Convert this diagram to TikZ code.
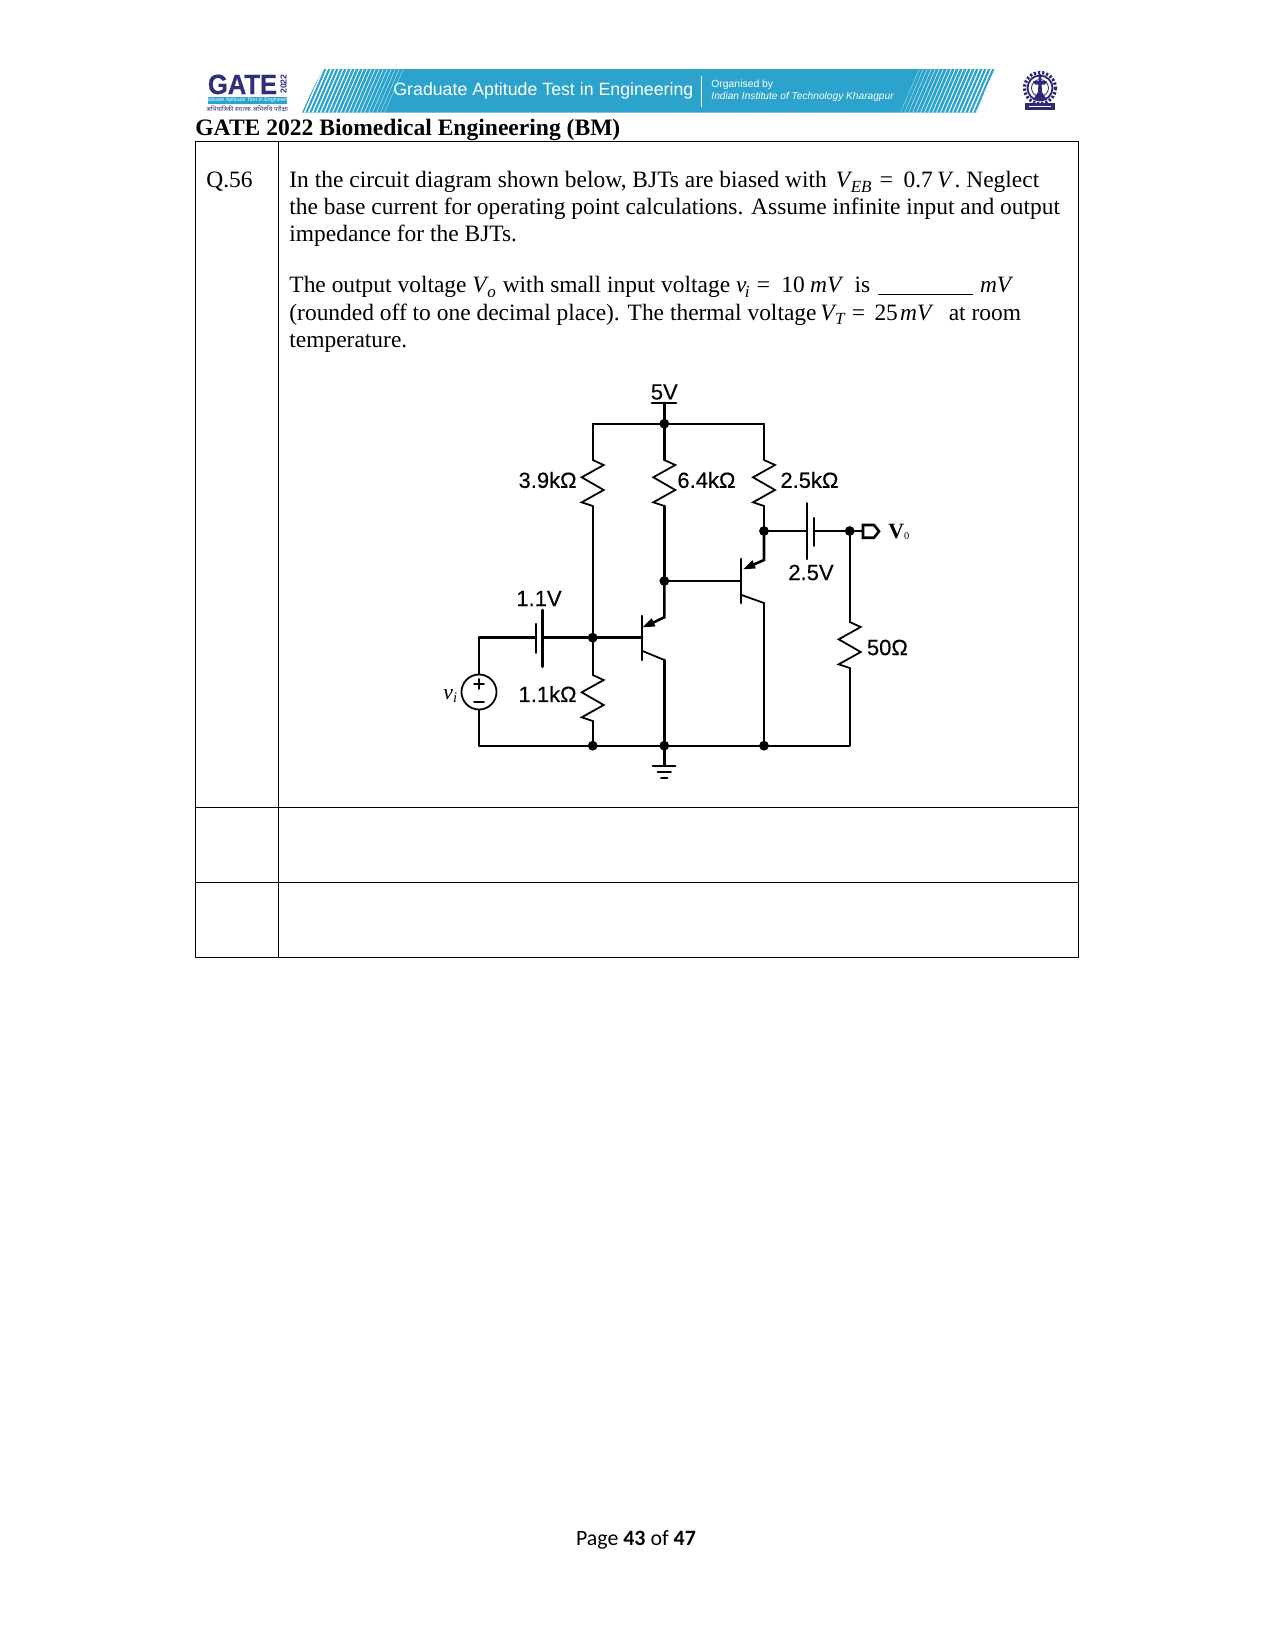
\documentclass[tikz,border=0pt]{standalone}
\usepackage{fontspec}
\usepackage{graphicx}
\setmainfont{Liberation Serif}
\newfontfamily\arialf{Liberation Sans}[FakeBold=0.25]
\newfontfamily\arialplain{Liberation Sans}
\newfontfamily\arialheavy{Liberation Sans Bold}[FakeBold=0.5]
\newfontfamily\carlitof{Carlito}
\newfontfamily\hindif[Script=Devanagari]{Noto Sans}
\usetikzlibrary{calc}
\definecolor{bannerblue}{HTML}{2BA3CC}
\definecolor{logonavy}{HTML}{2E2F7F}
\definecolor{emblemnavy}{HTML}{2B2A78}
\newcommand{\zigzag}[2]{\draw[#2] (#1) -- ++(11,5) -- ++(-22,12.3) -- ++(22,12.7) -- ++(-22,12.3) -- ++(11,3.7);}
\newcommand{\msub}[2]{\textit{#1}\kern-0.8pt\raisebox{-2.4pt}{\fontsize{8.2}{9}\selectfont\textit{#2}}}
\tikzset{
  x=0.48bp,y=-0.48bp,
  thinwire/.style={line width=0.85bp,line cap=round,line join=miter},
  thickwire/.style={line width=1.25bp,line cap=round,line join=miter},
  dotnode/.style={circle,fill=black,inner sep=0pt,minimum size=4.7bp},
  txt/.style={anchor=base west,inner sep=0pt,font=\fontsize{11.3}{13}\selectfont},
  lab/.style={inner sep=0pt,font=\arialf\fontsize{10.6}{12}\selectfont},
  tbl/.style={line width=0.42bp,black},
}
\begin{document}
\begin{tikzpicture}
\useasboundingbox (0,0) rectangle (1275,1651);
\fill[white] (0,0) rectangle (1275,1651);

% ---------- header banner
\begin{scope}
\clip (302,112.7) .. controls (310,95) and (316,82) .. (323,69) -- (995,69) .. controls (988,82) and (982,97) .. (977,112.7) -- cycle;
\fill[bannerblue] (295,65) rectangle (1000,116);
\foreach \i in {0,...,21}{
  \draw[white,line width={(0.72-0.03*\i)*1bp}] ({299+\i*4.0},116) -- ({321+\i*4.0},65);
}
\foreach \i in {0,...,21}{
  \draw[white,line width={(0.72-0.03*\i)*1bp}] ({983-\i*4.0},116) -- ({1005-\i*4.0},65);
}
\end{scope}
\draw[white,line width=0.3bp] (701,76) -- (701,107);
\node[anchor=west,inner sep=0pt,white,font=\arialplain\fontsize{8.55}{10}\selectfont] (bannertitle) at (393,91) {Graduate Aptitude Test in Engineering};
\node[anchor=west,inner sep=0pt,white,font=\arialplain\fontsize{5}{6}\selectfont] (bannerorg) at (711,85) {Organised by};
\node[anchor=west,inner sep=0pt,white,font=\arialplain\itshape\fontsize{4.9}{6}\selectfont] (bannerinst) at (711,97) {Indian Institute of Technology Kharagpur};

% ---------- GATE logo
\node[anchor=base west,inner sep=0pt,logonavy,font=\arialheavy\fontsize{13.4}{15}\selectfont] (gatelogo) at (207.5,94) {\scalebox{0.92}[1]{GATE}};
\node[rotate=90,inner sep=0pt,logonavy,font=\arialplain\bfseries\fontsize{4.2}{5}\selectfont] (gateyear) at (283.5,84) {2022};
\fill[bannerblue] (208,97) rectangle (287,104);
\node[inner sep=0pt,white,font=\arialplain\fontsize{2.6}{3}\selectfont] (gatestrip) at (247.5,100.6) {Graduate Aptitude Test in Engineering};
\node[inner sep=0pt,logonavy,font=\hindif\fontsize{3}{4}\selectfont] (gatehindi) at (247,109) {अभियांत्रिकी स्नातक अभिरुचि परीक्षा};

% ---------- emblem
\draw[emblemnavy,line width=1.5bp,dash pattern=on 1.1bp off 0.9bp] (1040,88) circle (15.5);
\draw[emblemnavy,line width=0.9bp] (1040,88) circle (12.5);
\draw[emblemnavy,line width=0.4bp] (1040,88) circle (8.5);
\fill[emblemnavy] (1038.9,74) -- (1041.1,74) -- (1042,92) -- (1047,100) -- (1033,100) -- (1038,92) -- cycle;
\fill[emblemnavy] (1033,81) -- (1047,81) -- (1045,84.5) -- (1035,84.5) -- cycle;
\fill[emblemnavy] (1025,103) rectangle (1055,110);
\fill[white] (1029,106) rectangle (1051,107);

% ---------- title and table
\node[anchor=base west,inner sep=0pt,font=\bfseries\fontsize{11.35}{14}\selectfont] (title) at (195,135.5) {GATE 2022 Biomedical Engineering (BM)};
\draw[tbl] (195,141) rectangle (1078,957);
\draw[tbl] (278,141) -- (278,957);
\draw[tbl] (195,807.5) -- (1078,807.5);
\draw[tbl] (195,882) -- (1078,882);

\node[txt] (qno) at (206,187.5) {Q.56};
\node[txt] (l1) at (289,187.5) {In the circuit diagram shown below, BJTs are biased with\hspace{1.5bp} \msub{V}{EB}\hspace{4bp}=\hspace{5bp}0.7\hspace{2bp}\textit{V}\hspace{0.5bp}. Neglect};
\node[txt] (l2) at (289,214.5) {the base current for operating point calculations. Assume infinite input and output};
\node[txt] (l3) at (289,241.5) {impedance for the BJTs.};
\node[txt] (l4) at (289,292.5) {The output voltage \msub{V}{o}\hspace{0.5bp} with small input voltage \msub{v}{i}\hspace{3.5bp}=\hspace{5.5bp}10\hspace{2.5bp}\textit{mV}\hspace{2.5bp} is\hspace{1bp} \rule[-1.2pt]{45.5bp}{0.5pt}\hspace{0.5bp} \textit{mV}};
\node[txt] (l5) at (289,320) {(rounded off to one decimal place). The thermal voltage\hspace{-1bp} \msub{V}{T}\hspace{3bp}=\hspace{4.5bp}25\hspace{1bp}\textit{mV}\hspace{4.5bp} at room};
\node[txt] (l6) at (289,347) {temperature.};

% ---------- circuit coordinates
\coordinate (vccbar) at (664.3,403);
\coordinate (railL) at (592.7,423.7);
\coordinate (railR) at (764,423.7);
\node[dotnode] (vcc) at (664.3,423.7) {};
\coordinate (r1t) at (592.7,460);
\coordinate (r1b) at (592.7,506);
\coordinate (r2t) at (664.3,460);
\coordinate (r2b) at (664.3,506);
\coordinate (r3t) at (764,460);
\coordinate (r3b) at (764,506);
\node[dotnode] (outn) at (764,531) {};
\node[dotnode] (loadn) at (849.7,531) {};
\node[dotnode] (q2b) at (664.3,581) {};
\node[dotnode] (basen) at (592.7,637.7) {};
\coordinate (r4t) at (592.7,675);
\coordinate (r4b) at (592.7,721);
\coordinate (r5t) at (849.7,622);
\coordinate (r5b) at (849.7,668);
\node[dotnode] (gnd1) at (592.7,745.7) {};
\node[dotnode] (gnd2) at (664.3,745.7) {};
\node[dotnode] (gnd3) at (764,745.7) {};
\coordinate (srcT) at (479,637.7);
\coordinate (srcB) at (479,745.7);
\coordinate (loadB) at (849.7,745.7);
\node[circle,draw,line width=0.85bp,inner sep=0pt,minimum size=16.8bp] (src) at (479,692) {};

% power rails
\draw[thickwire] (652,403) -- (676,403);
\draw[thickwire] (vccbar) -- (vcc.center);
\draw[thinwire] (railL) -- (railR);
\draw[thinwire] (railL) -- (r1t);
\zigzag{r1t}{thinwire}
\draw[thinwire] (r1b) -- (basen.center);
\draw[thickwire] (vcc.center) -- (r2t);
\zigzag{r2t}{thinwire}
\draw[thickwire] (r2b) -- (q2b.center);
\draw[thinwire] (railR) -- (r3t);
\zigzag{r3t}{thinwire}
\draw[thickwire] (r3b) -- (outn.center);

% Q2
\coordinate (q2bar) at (741,581);
\draw[thickwire] (741,559) -- (741,603);
\draw[thickwire] (q2b.center) -- (q2bar);
\coordinate (q2e) at (764,560);
\draw[thickwire] (outn.center) -- (q2e) -- (748,567);
\fill (743.3,569.3) -- (752.4,560.2) -- (755.9,568.4) -- cycle;
\draw[thinwire] (741.5,595) -- (764,603) -- (gnd3.center);

% Q1
\draw[thickwire] (642,616) -- (642,660);
\draw[thickwire] (basen.center) -- (642,637.7);
\coordinate (q1e) at (664.3,617.3);
\draw[thickwire] (q2b.center) -- (q1e) -- (648,625);
\fill (642.7,627.3) -- (651.7,618.2) -- (655.5,626.4) -- cycle;
\draw[thinwire] (642.5,651) -- (664.3,660);
\draw[thickwire] (664.3,660) -- (gnd2.center);

% input
\draw[thinwire] (srcT) -- (src.north);
\draw[thinwire] (src.south) -- (srcB);
\draw[thinwire] (srcB) -- (gnd1.center);
\draw[thinwire] (gnd1.center) -- (gnd3.center);
\draw[thinwire] (gnd3.center) -- (loadB);
\draw[thickwire] (srcT) -- (536,637.7);
\draw[thickwire] (536,624) -- (536,652.7);
\draw[thickwire] (542.7,610) -- (542.7,666.7);
\draw[thickwire] (542.7,637.7) -- (basen.center);
\draw[thinwire] (474,684) -- (484,684) (479,679) -- (479,689);
\draw[thinwire] (474,702) -- (484,702);

% r4
\draw[thinwire] (basen.center) -- (r4t);
\zigzag{r4t}{thinwire}
\draw[thinwire] (r4b) -- (gnd1.center);

% output
\draw[thickwire] (outn.center) -- (807,531);
\draw[thickwire] (807,503.3) -- (807,559);
\draw[thickwire] (814,518) -- (814,545.7);
\draw[thickwire] (814,531) -- (loadn.center);
\draw[thickwire] (loadn.center) -- (863,531);
\draw[thickwire] (863,525) -- (874,525) -- (879,531.3) -- (874,537.7) -- (863,537.7) -- cycle;
\draw[thinwire] (loadn.center) -- (r5t);
\zigzag{r5t}{thinwire}
\draw[thinwire] (r5b) -- (loadB);

% ground
\coordinate (gndbar) at (664.3,765.7);
\draw[thickwire] (gnd2.center) -- (gndbar);
\draw[thinwire] (652.7,765.7) -- (675.5,765.7);
\draw[thinwire] (657.5,771.7) -- (671,771.7);
\draw[thinwire] (661,778) -- (667.5,778);

% labels
\node[lab] (l5v) at (664.3,392) {5V};
\node[lab,anchor=east] (l39) at (577,480) {3.9kΩ};
\node[lab,anchor=west] (l64) at (677,480) {6.4kΩ};
\node[lab,anchor=west] (l25) at (780,480) {2.5kΩ};
\node[lab] (l25v) at (811,572.5) {2.5V};
\node[lab] (l11v) at (539,598.5) {1.1V};
\node[lab,anchor=east] (l11k) at (577,694) {1.1kΩ};
\node[lab,anchor=west] (l50) at (866.5,647.5) {50Ω};
\node[anchor=base west,inner sep=0pt,font=\fontsize{10.5}{12}\selectfont] (lvi) at (443,699) {\textit{v}\raisebox{-1.5pt}{\fontsize{7}{8}\selectfont\textit{i}}};
\node[anchor=base west,inner sep=0pt,font=\bfseries\fontsize{10.5}{12}\selectfont] (lvo) at (888,538) {V\raisebox{-0.5pt}{\fontsize{5}{6}\selectfont\mdseries 0}};

% footer
\node[anchor=base,inner sep=0pt,font=\carlitof\fontsize{10.55}{13}\selectfont] (footer) at (636,1545) {Page \textbf{43} of \textbf{47}};
\end{tikzpicture}
\end{document}
